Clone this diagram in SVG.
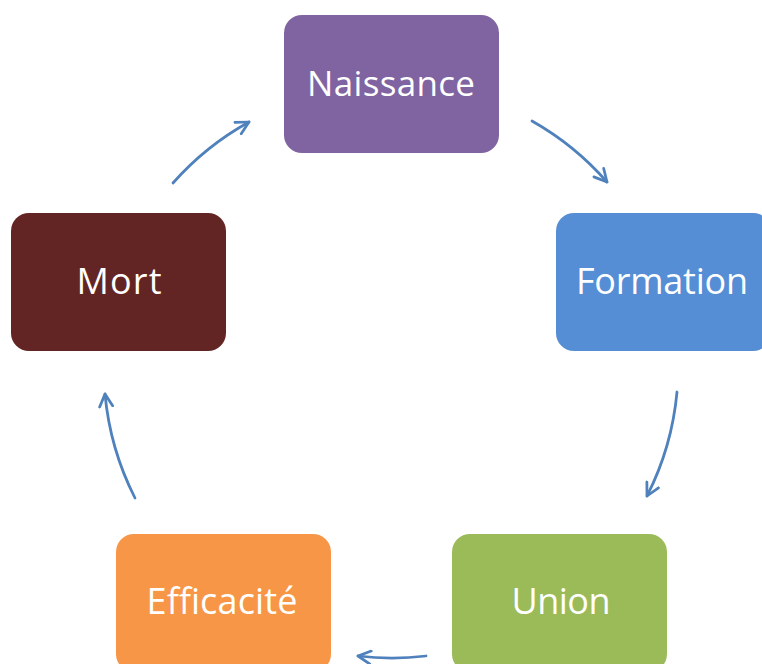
<svg xmlns="http://www.w3.org/2000/svg" width="762" height="664" viewBox="0 0 762 664">
<style>
.box{stroke:none}
.lbl{font-family:"Open Sans","Liberation Sans",sans-serif;fill:#ffffff;text-anchor:middle}
.arr{fill:none;stroke:#4F81BD;stroke-width:2.75;stroke-linecap:round;marker-end:url(#ah)}
</style>
<defs>
<marker id="ah" viewBox="0 0 16 16" refX="14" refY="8" markerWidth="16" markerHeight="16" markerUnits="userSpaceOnUse" orient="auto">
<path d="M1.5,1.5 L14,8 L1.5,14.5" fill="none" stroke="#4F81BD" stroke-width="2.75" stroke-linecap="round" stroke-linejoin="round"/>
</marker>
</defs>
<rect width="762" height="664" fill="#ffffff"/>
<g id="connectors">
<path class="arr" d="M532,121 A287,287 0 0 1 607,182"/>
<path class="arr" d="M677,392 A287,287 0 0 1 647,496"/>
<path class="arr" d="M426,656 A287,287 0 0 1 358,656"/>
<path class="arr" d="M135,498 A287,287 0 0 1 105,394"/>
<path class="arr" d="M173,183 A287,287 0 0 1 249,122"/>
</g>
<g id="naissance">
<rect class="box" x="284" y="15" width="215" height="138" rx="18" fill="#8064A2"/>
<text class="lbl" x="391" y="96" font-size="35" textLength="168" lengthAdjust="spacing">Naissance</text>
</g>
<g id="formation">
<rect class="box" x="556" y="213" width="215" height="138" rx="18" fill="#558ED5"/>
<text class="lbl" x="662" y="294" font-size="36" textLength="172" lengthAdjust="spacing">Formation</text>
</g>
<g id="union">
<rect class="box" x="452" y="534" width="215" height="138" rx="18" fill="#9BBB59"/>
<text class="lbl" x="561" y="614" font-size="36" textLength="99" lengthAdjust="spacing">Union</text>
</g>
<g id="efficacite">
<rect class="box" x="116" y="534" width="215" height="138" rx="18" fill="#F79646"/>
<text class="lbl" x="222" y="614" font-size="36" textLength="151" lengthAdjust="spacing">Efficacité</text>
</g>
<g id="mort">
<rect class="box" x="11" y="213" width="215" height="138" rx="18" fill="#632523"/>
<text class="lbl" x="119" y="294" font-size="36" textLength="85" lengthAdjust="spacing">Mort</text>
</g>
</svg>
